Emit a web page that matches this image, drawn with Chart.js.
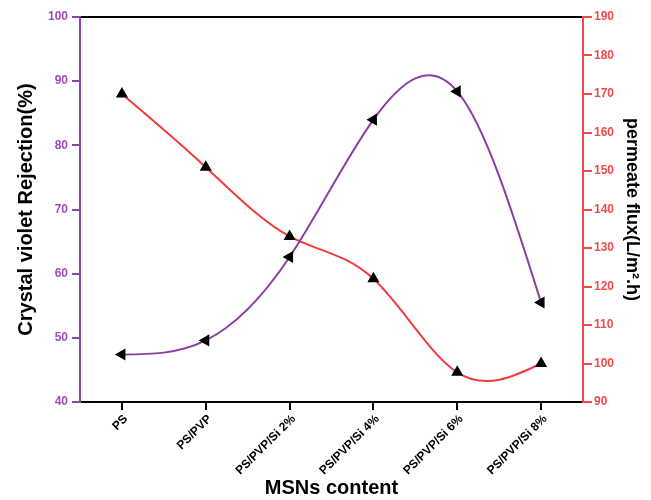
<!DOCTYPE html>
<html>
<head>
<meta charset="utf-8">
<script src="https://cdn.jsdelivr.net/npm/chart.js@4/dist/chart.umd.min.js"></script>
<style>
  html, body { margin: 0; padding: 0; background: #fff; }
  #wrap { width: 651px; height: 500px; }
</style>
</head>
<body>
<div id="wrap"><canvas id="chart" width="651" height="500"></canvas></div>
<script>
// Membrane samples along the x axis
const categories = ['PS', 'PS/PVP', 'PS/PVP/Si 2%', 'PS/PVP/Si 4%', 'PS/PVP/Si 6%', 'PS/PVP/Si 8%'];

// Crystal violet rejection (%) – left axis
const rejection = [47.4, 49.6, 62.6, 84.0, 88.4, 55.5];

// Permeate flux (L/m².h) – right axis
const flux = [170, 151, 133, 122, 97.7, 100];

// Axis ranges
const rejectionRange = [40, 100];
const fluxRange = [90, 190];
const tickStep = 10;

const FONT = '"Liberation Sans", Arial, sans-serif';
const PURPLE_LINE = '#8A3FA6';
const PURPLE_AXIS = '#8E44AD';
const PURPLE_TEXT = '#9B50B6';
const RED_LINE = '#F03C3C';
const RED_AXIS = '#F24A4A';
const RED_TEXT = '#F24A4A';

const tickFont = { family: FONT, size: 12, weight: 'bold' };

// Natural cubic spline through the plotted points: sets the Bezier control
// points of each line so the curve is y(x) with zero curvature at both ends.
const naturalSpline = {
  id: 'naturalSpline',
  beforeDatasetDraw(chart, args) {
    const meta = args.meta;
    const pts = meta.data;
    const n = pts.length;
    if (n < 3) return;
    const x = pts.map(p => p.x), y = pts.map(p => p.y);
    const h = [];
    for (let i = 0; i < n - 1; i++) h.push(x[i + 1] - x[i]);
    // tridiagonal system for second derivatives (M0 = Mn-1 = 0)
    const a = new Array(n).fill(0), b = new Array(n).fill(1), c = new Array(n).fill(0), d = new Array(n).fill(0);
    for (let i = 1; i < n - 1; i++) {
      a[i] = h[i - 1];
      b[i] = 2 * (h[i - 1] + h[i]);
      c[i] = h[i];
      d[i] = 6 * ((y[i + 1] - y[i]) / h[i] - (y[i] - y[i - 1]) / h[i - 1]);
    }
    for (let i = 1; i < n; i++) {
      const w = a[i] / b[i - 1];
      b[i] -= w * c[i - 1];
      d[i] -= w * d[i - 1];
    }
    const M = new Array(n).fill(0);
    M[n - 1] = d[n - 1] / b[n - 1];
    for (let i = n - 2; i >= 0; i--) M[i] = (d[i] - c[i] * M[i + 1]) / b[i];
    M[0] = 0; M[n - 1] = 0;
    for (let i = 0; i < n - 1; i++) {
      const s = (y[i + 1] - y[i]) / h[i];
      const m0 = s - h[i] * (2 * M[i] + M[i + 1]) / 6;
      const m1 = s + h[i] * (M[i] + 2 * M[i + 1]) / 6;
      pts[i].cp2x = x[i] + h[i] / 3;
      pts[i].cp2y = y[i] + m0 * h[i] / 3;
      pts[i + 1].cp1x = x[i + 1] - h[i] / 3;
      pts[i + 1].cp1y = y[i + 1] - m1 * h[i] / 3;
    }
    pts[0].cp1x = x[0]; pts[0].cp1y = y[0];
    pts[n - 1].cp2x = x[n - 1]; pts[n - 1].cp2y = y[n - 1];
    meta.dataset._pointsUpdated = true;
  }
};

new Chart(document.getElementById('chart'), {
  type: 'line',
  plugins: [naturalSpline],
  data: {
    labels: categories,
    datasets: [
      {
        label: 'Crystal violet Rejection(%)',
        data: rejection,
        yAxisID: 'y',
        xAxisID: 'x',
        borderColor: PURPLE_LINE,
        borderWidth: 2,
        tension: 0.4,
        pointStyle: 'triangle',
        rotation: -90,
        pointRadius: 7,
        pointHoverRadius: 7,
        pointBackgroundColor: '#000',
        pointBorderColor: '#000',
        pointBorderWidth: 0,
        fill: false
      },
      {
        label: 'permeate flux(L/m².h)',
        data: flux,
        yAxisID: 'y1',
        xAxisID: 'x',
        borderColor: RED_LINE,
        borderWidth: 2,
        tension: 0.4,
        pointStyle: 'triangle',
        pointRadius: 7,
        pointHoverRadius: 7,
        pointBackgroundColor: '#000',
        pointBorderColor: '#000',
        pointBorderWidth: 0,
        fill: false
      }
    ]
  },
  options: {
    responsive: false,
    animation: false,
    layout: { padding: { top: 17, left: 0, right: 0, bottom: 0 } },
    plugins: {
      legend: { display: false },
      tooltip: { enabled: false }
    },
    scales: {
      x: {
        type: 'category',
        position: 'bottom',
        offset: true,
        grid: {
          display: true,
          drawOnChartArea: false,
          drawTicks: true,
          tickLength: 8,
          offset: false,
          color: '#000',
          lineWidth: 2
        },
        border: { display: true, color: '#000', width: 2 },
        ticks: {
          color: '#000',
          font: tickFont,
          maxRotation: 45,
          minRotation: 45,
          autoSkip: false,
          padding: 2,
          labelOffset: 4
        },
        title: {
          display: true,
          text: 'MSNs content',
          color: '#000',
          font: { family: FONT, size: 20, weight: 'bold' },
          padding: { top: 0, bottom: 0 }
        },
        afterFit: s => { s.height = 98; }
      },
      xTop: {
        type: 'category',
        position: 'top',
        offset: true,
        grid: { display: false },
        ticks: { display: false },
        border: { display: true, color: '#000', width: 2 },
        afterFit: s => { s.height = 0; }
      },
      y: {
        type: 'linear',
        position: 'left',
        min: rejectionRange[0],
        max: rejectionRange[1],
        grid: {
          display: true,
          drawOnChartArea: false,
          drawTicks: true,
          tickLength: 8,
          color: PURPLE_AXIS,
          lineWidth: 2
        },
        border: { display: true, color: PURPLE_AXIS, width: 2 },
        ticks: {
          stepSize: tickStep,
          color: PURPLE_TEXT,
          font: tickFont,
          padding: 4
        },
        title: {
          display: true,
          text: 'Crystal violet Rejection(%)',
          color: '#000',
          font: { family: FONT, size: 20, weight: 'bold' },
          padding: { top: 14, bottom: 0 }
        },
        afterFit: s => { s.width = 80; }
      },
      y1: {
        type: 'linear',
        position: 'right',
        min: fluxRange[0],
        max: fluxRange[1],
        grid: {
          display: true,
          drawOnChartArea: false,
          drawTicks: true,
          tickLength: 9,
          color: RED_AXIS,
          lineWidth: 2
        },
        border: { display: true, color: RED_AXIS, width: 2 },
        ticks: {
          stepSize: tickStep,
          color: RED_TEXT,
          font: tickFont,
          padding: 2
        },
        title: {
          display: true,
          text: 'permeate flux(L/m².h)',
          color: '#000',
          font: { family: FONT, size: 18, weight: 'bold' },
          padding: { top: 8, bottom: 0 }
        },
        afterFit: s => { s.width = 68; }
      }
    }
  }
});
</script>
</body>
</html>
